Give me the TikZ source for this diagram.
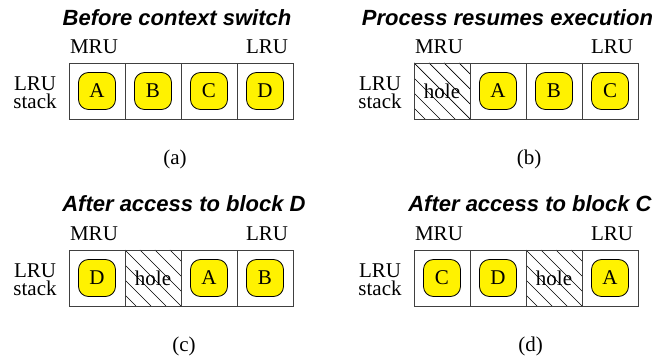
\documentclass[tikz,border=0pt]{standalone}
\usepackage{fontspec}
\setmainfont{Liberation Serif}
\newfontfamily\headfont{Liberation Sans}
\begin{document}
\begin{tikzpicture}[x=1pt,y=-1pt,
  every node/.style={inner sep=0pt, outer sep=0pt},
  txt/.style={font=\fontsize{21}{21}\selectfont},
  lbl/.style={txt, anchor=base},
  head/.style={font=\headfont\bfseries\itshape\fontsize{22}{22}\selectfont, anchor=base},
  cell/.style={draw=black!75, line width=0.9pt, minimum width=56pt, minimum height=56pt, txt},
  blk/.style={draw=black, line width=0.8pt, fill=yellow, rounded corners=10pt,
    minimum width=37pt, minimum height=37pt, txt},
  hatch/.style={draw=black, line width=0.7pt},
  holecell/.style={cell, path picture={
    \foreach \k in {-60,-45,...,60}
      \draw[hatch] ([xshift=\k pt]path picture bounding box.north west) -- ++(56pt,-56pt);}},
]
\useasboundingbox (0,0) rectangle (657,358);

% (a) before the context switch
\node[head] (ta) at (177,25.5) {Before context switch};
\node[lbl] (mruA) at (94,54) {MRU};
\node[lbl] (lruA) at (267,54) {LRU};
\node[lbl] (stkA1) at (35,90.5) {LRU};
\node[lbl] (stkA2) at (35,109) {stack};
\node[cell] (a1) at (97,91) {};
\node[cell] (a2) at (153,91) {};
\node[cell] (a3) at (209,91) {};
\node[cell] (a4) at (265,91) {};
\node[blk] (ba1) at (a1) {A};
\node[blk] (ba2) at (a2) {B};
\node[blk] (ba3) at (a3) {C};
\node[blk] (ba4) at (a4) {D};
\node[lbl] (capA) at (175,164.5) {(a)};

% (b) process resumes
\node[head] (tb) at (507.5,25.5) {Process resumes execution};
\node[lbl] (mruB) at (439,54) {MRU};
\node[lbl] (lruB) at (612,54) {LRU};
\node[lbl] (stkB1) at (380,90.5) {LRU};
\node[lbl] (stkB2) at (380,109) {stack};
\node[holecell] (b1) at (442,91) {hole};
\node[cell] (b2) at (498,91) {};
\node[cell] (b3) at (554,91) {};
\node[cell] (b4) at (610,91) {};
\node[blk] (bb2) at (b2) {A};
\node[blk] (bb3) at (b3) {B};
\node[blk] (bb4) at (b4) {C};
\node[lbl] (capB) at (529,164.5) {(b)};

% (c) after access to block D
\node[head] (tc) at (184,212) {After access to block D};
\node[lbl] (mruC) at (94,241) {MRU};
\node[lbl] (lruC) at (267,241) {LRU};
\node[lbl] (stkC1) at (35,277.5) {LRU};
\node[lbl] (stkC2) at (35,296) {stack};
\node[cell] (c1) at (97,278) {};
\node[holecell] (c2) at (153,278) {hole};
\node[cell] (c3) at (209,278) {};
\node[cell] (c4) at (265,278) {};
\node[blk] (bc1) at (c1) {D};
\node[blk] (bc3) at (c3) {A};
\node[blk] (bc4) at (c4) {B};
\node[lbl] (capC) at (184,351.5) {(c)};

% (d) after access to block C
\node[head] (td) at (530,212) {After access to block C};
\node[lbl] (mruD) at (439,241) {MRU};
\node[lbl] (lruD) at (612,241) {LRU};
\node[lbl] (stkD1) at (380,277.5) {LRU};
\node[lbl] (stkD2) at (380,296) {stack};
\node[cell] (d1) at (442,278) {};
\node[cell] (d2) at (498,278) {};
\node[holecell] (d3) at (554,278) {hole};
\node[cell] (d4) at (610,278) {};
\node[blk] (bd1) at (d1) {C};
\node[blk] (bd2) at (d2) {D};
\node[blk] (bd4) at (d4) {A};
\node[lbl] (capD) at (530.5,351.5) {(d)};
\end{tikzpicture}
\end{document}
